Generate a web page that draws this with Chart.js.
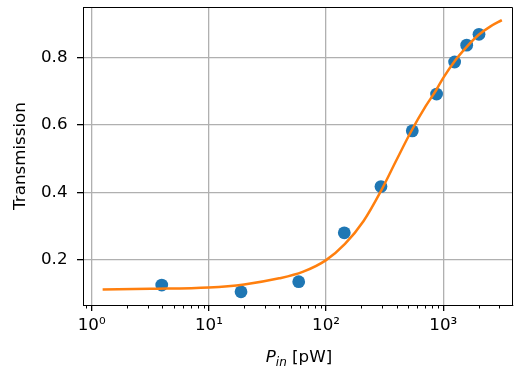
<!DOCTYPE html>
<html>
<head>
<meta charset="utf-8">
<script src="https://cdn.jsdelivr.net/npm/chart.js@4.4.1/dist/chart.umd.min.js"></script>
<style>
  html, body { margin: 0; padding: 0; background: #fff; }
  #wrap { width: 514px; height: 370px; }
</style>
</head>
<body>
<div id="wrap"><canvas id="chart" width="514" height="370"></canvas></div>
<script>
// measured points (P_in in pW, transmission)
const measX = [3.96, 18.8, 58.4, 143, 294, 544, 877, 1250, 1585, 2018];
const measY = [0.125, 0.105, 0.135, 0.280, 0.417, 0.582, 0.691, 0.786, 0.836, 0.868];

// fit curve
const fitX = [1.24, 3.16, 10, 20, 39.8, 63.1, 100, 145, 209, 295, 398, 537, 708, 871, 1000, 1259, 1585, 1995, 2512, 3162];
const fitY = [0.112, 0.114, 0.118, 0.127, 0.145, 0.164, 0.199, 0.247, 0.315, 0.405, 0.495, 0.583, 0.655, 0.703, 0.739, 0.790, 0.831, 0.866, 0.891, 0.910];

const xTickValues = [1, 10, 100, 1000];
const xTickLabels = ["10\u2070", "10\u00b9", "10\u00b2", "10\u00b3"];
const yTickValues = [0.2, 0.4, 0.6, 0.8];

Chart.defaults.font.family = "'DejaVu Sans', sans-serif";
Chart.defaults.font.size = 16.7;
Chart.defaults.color = "#000";

// box on top/right, minor log ticks, x label with subscript
const extras = {
  id: "extras",
  afterDraw(chart) {
    const { ctx, chartArea: a } = chart;
    const xs = chart.scales.x;
    ctx.save();
    ctx.strokeStyle = "#000";
    ctx.lineWidth = 1;
    ctx.beginPath();
    ctx.moveTo(a.left, a.top + 0.5);
    ctx.lineTo(a.right - 0.5, a.top + 0.5);
    ctx.lineTo(a.right - 0.5, a.bottom);
    ctx.stroke();

    ctx.beginPath();
    for (let k = -1; k <= 3; k++) {
      for (let m = 2; m <= 9; m++) {
        const v = m * Math.pow(10, k);
        if (v < xs.min || v > xs.max) continue;
        const px = Math.round(xs.getPixelForValue(v)) + 0.5;
        ctx.moveTo(px, a.bottom);
        ctx.lineTo(px, a.bottom + 3.5);
      }
    }
    ctx.stroke();

    // x axis title: P_in [pW]
    const cx = 299;
    const base = 362;
    ctx.fillStyle = "#000";
    ctx.textBaseline = "alphabetic";
    ctx.textAlign = "left";
    const fBig = "italic 16.7px 'DejaVu Sans'";
    const fSub = "italic 12px 'DejaVu Sans'";
    const fReg = "16.7px 'DejaVu Sans'";
    ctx.font = fBig; const wP = ctx.measureText("P").width;
    ctx.font = fSub; const wIn = ctx.measureText("in").width;
    ctx.font = fReg; const wRest = ctx.measureText(" [pW]").width;
    let x0 = cx - (wP + wIn + wRest) / 2;
    ctx.font = fBig; ctx.fillText("P", x0, base); x0 += wP;
    ctx.font = fSub; ctx.fillText("in", x0, base + 3.5); x0 += wIn;
    ctx.font = fReg; ctx.fillText(" [pW]", x0, base);
    ctx.restore();
  }
};

new Chart(document.getElementById("chart"), {
  type: "scatter",
  data: {
    datasets: [
      {
        type: "line",
        data: fitX.map((x, i) => ({ x: x, y: fitY[i] })),
        borderColor: "#ff7f0e",
        borderWidth: 2.5,
        pointRadius: 0,
        fill: false,
        cubicInterpolationMode: "monotone",
        order: 0
      },
      {
        data: measX.map((x, i) => ({ x: x, y: measY[i] })),
        backgroundColor: "#1f77b4",
        borderWidth: 0,
        pointRadius: 6.4,
        order: 1
      }
    ]
  },
  options: {
    responsive: false,
    animation: false,
    layout: { autoPadding: false, padding: { top: 7, right: 1, left: 0, bottom: 0 } },
    plugins: { legend: { display: false }, tooltip: { enabled: false } },
    scales: {
      x: {
        type: "logarithmic",
        min: 0.843,
        max: 3936,
        afterBuildTicks: (s) => { s.ticks = xTickValues.map(v => ({ value: v })); },
        afterFit: (s) => { s.height = 65; s.paddingLeft = 0; s.paddingRight = 0; },
        ticks: {
          autoSkip: false,
          maxRotation: 0,
          padding: 5,
          callback: (v) => {
            const i = xTickValues.indexOf(v);
            return i >= 0 ? xTickLabels[i] : "";
          }
        },
        grid: { color: "#b0b0b0", lineWidth: 1.3, tickColor: "#000", tickLength: 6 },
        border: { color: "#000", width: 1 }
      },
      y: {
        min: 0.066,
        max: 0.949,
        afterBuildTicks: (s) => { s.ticks = yTickValues.map(v => ({ value: v })); },
        afterFit: (s) => { s.width = 83; s.paddingTop = 0; s.paddingBottom = 0; },
        ticks: {
          padding: 9.5,
          callback: (v) => v.toFixed(1)
        },
        title: {
          display: true,
          text: "Transmission",
          padding: { top: 11, bottom: 0 }
        },
        grid: { color: "#b0b0b0", lineWidth: 1.3, tickColor: "#000", tickLength: 6 },
        border: { color: "#000", width: 1 }
      }
    }
  },
  plugins: [extras]
});
</script>
</body>
</html>
